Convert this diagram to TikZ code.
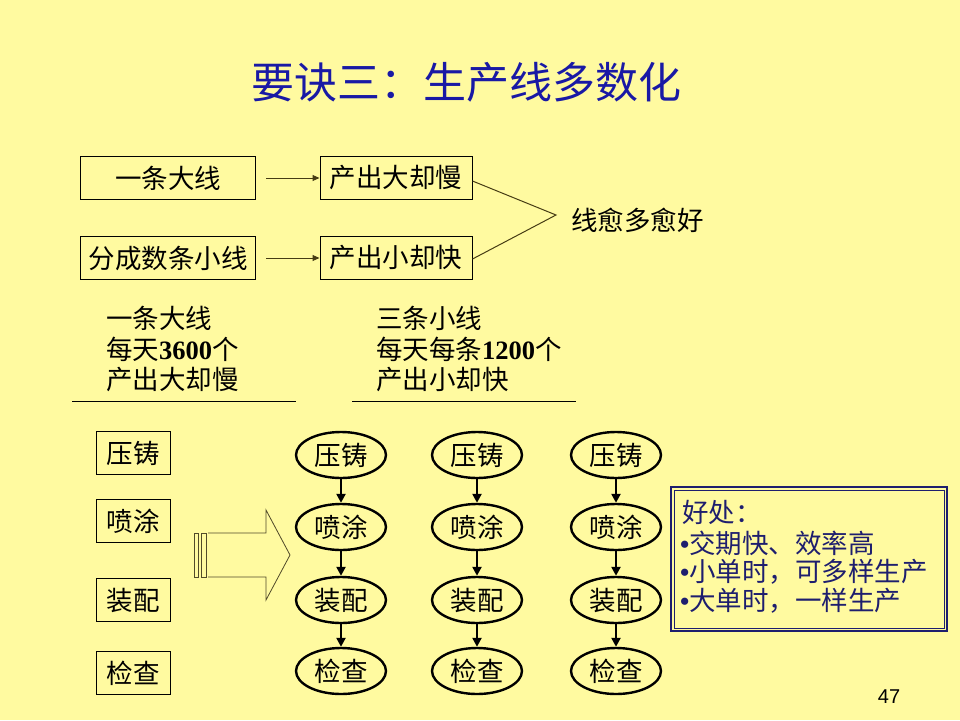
\documentclass[tikz,border=0pt]{standalone}
\usepackage{fontspec}
\setmainfont{Noto Sans CJK SC}
\newfontfamily\latin{Liberation Serif}
\newfontfamily\pagefont{Liberation Sans}
\usetikzlibrary{shapes.geometric,arrows.meta}
\definecolor{bg}{RGB}{255,250,160}
\definecolor{ttl}{RGB}{25,25,165}
\definecolor{navy}{RGB}{30,30,110}
\definecolor{olive}{RGB}{70,60,20}
\begin{document}
\begin{tikzpicture}[x=1pt,y=-1pt,
  txt/.style={font=\fontsize{26.5}{28}\selectfont,inner sep=0pt},
  rbox/.style={draw=black,line width=1pt,minimum width=#1,minimum height=43pt,inner sep=0pt,font=\fontsize{26.5}{28}\selectfont},
  oval/.style={ellipse,draw=black,line width=2.4pt,minimum width=90pt,minimum height=46pt,inner sep=0pt,font=\fontsize{26.5}{28}\selectfont},
  conn/.style={olive,line width=1pt,-{Triangle[length=7pt,width=6pt]}},
  thinln/.style={olive,line width=1pt},
  flow/.style={black,line width=2.6pt,-{Triangle[length=9pt,width=9pt]}},
  blk/.style={draw=olive!80!gray,line width=0.8pt},
  bentxt/.style={font=\fontsize{26.5}{28}\selectfont,text=navy,inner sep=0pt,anchor=west}
]
\fill[bg] (0,0) rectangle (960,720);
\useasboundingbox (0,0) rectangle (960,720);

% title
\node[font=\fontsize{43}{45}\selectfont,text=ttl,inner sep=0pt] (title) at (466,82) {要诀三：生产线多数化};

% top boxes
\node[rbox=175pt] (b1) at (168,178) {一条大线};
\node[rbox=175pt] (b2) at (168,258) {分成数条小线};
\node[rbox=152pt] (b3) at (396,178) {产出大却慢};
\node[rbox=152pt] (b4) at (396,258) {产出小却快};
\draw[conn] ([xshift=10pt]b1.east) -- (b3.west);
\draw[conn] ([xshift=10pt]b2.east) -- (b4.west);
\coordinate (apex) at (556,215);
\draw[thinln] ([yshift=-3pt]b3.east) -- (apex) -- ([yshift=-1pt]b4.east);
\node[txt,anchor=west] (good) at (571,220) {线愈多愈好};

% text blocks
\node[txt,anchor=west] (l1) at (106,318) {一条大线};
\node[txt,anchor=west] (l2) at (106,349) {每天{\latin\bfseries 3600}个};
\node[txt,anchor=west] (l3) at (106,380) {产出大却慢};
\node[txt,anchor=west] (r1) at (376,318) {三条小线};
\node[txt,anchor=west] (r2) at (376,349) {每天每条{\latin\bfseries 1200}个};
\node[txt,anchor=west] (r3) at (376,380) {产出小却快};
\draw[black,line width=1pt] (72,401) -- (296,401);
\draw[black,line width=1pt] (352,401) -- (576,401);

% left process boxes
\node[rbox=74pt] (s1) at (133,453) {压铸};
\node[rbox=74pt] (s2) at (133,521) {喷涂};
\node[rbox=74pt] (s3) at (133,600) {装配};
\node[rbox=74pt] (s4) at (133,673) {检查};

% striped block arrow
\draw[blk] (194,533) rectangle (198,577);
\draw[blk] (201,533) rectangle (206,577);
\draw[blk] (208,533) -- (266,533) -- (266,510) -- (290,555) -- (266,600) -- (266,577) -- (208,577);

% three lines
\foreach \c/\x in {a/341,b/477,c/616}{
  \node[oval] (\c1) at (\x,455) {压铸};
  \node[oval] (\c2) at (\x,527) {喷涂};
  \node[oval] (\c3) at (\x,600) {装配};
  \node[oval] (\c4) at (\x,671) {检查};
  \draw[flow] (\c1) -- (\c2);
  \draw[flow] (\c2) -- (\c3);
  \draw[flow] (\c3) -- (\c4);
}

% benefits box
\node[draw=navy,line width=2.4pt,minimum width=276pt,minimum height=144pt,anchor=north west,inner sep=0pt] (ben) at (670,486) {};
\draw[navy,line width=0.8pt] ([shift={(4pt,-4pt)}]ben.north west) rectangle ([shift={(-4pt,4pt)}]ben.south east);
\node[bentxt] (h0) at (682,512) {好处：};
\node[bentxt] (h1) at (680,543) {{\latin\bfseries •}交期快、效率高};
\node[bentxt] (h2) at (680,572) {{\latin\bfseries •}小单时，可多样生产};
\node[bentxt] (h3) at (680,601) {{\latin\bfseries •}大单时，一样生产};

% page number
\node[font=\pagefont\fontsize{20}{22}\selectfont,inner sep=0pt] (pg) at (889,697) {47};
\end{tikzpicture}
\end{document}
